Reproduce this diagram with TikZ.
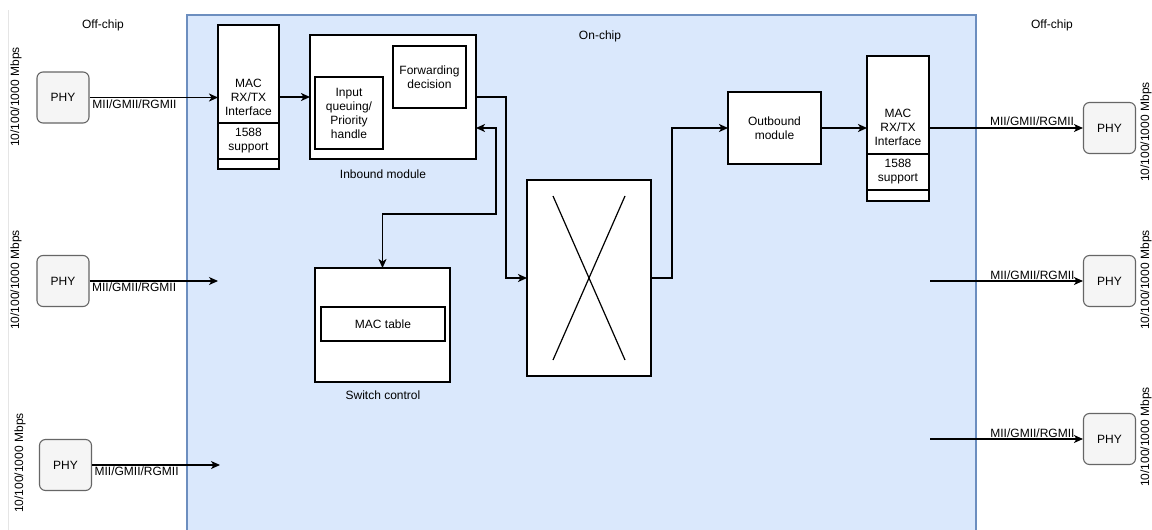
\documentclass[tikz,border=0pt]{standalone}
\usepackage{fontspec}
\setmainfont{Liberation Sans}
\usetikzlibrary{arrows.meta}
\usetikzlibrary{calc,positioning}

\definecolor{chipfill}{HTML}{DAE8FC}
\definecolor{chipline}{HTML}{6C8EBF}
\definecolor{phyfill}{HTML}{F5F5F5}
\definecolor{phyline}{HTML}{666666}

\tikzset{
 blk/.style={draw=black, line width=1.8pt, fill=white, inner sep=0, outer sep=0, align=center},
 phy/.style={draw=phyline, fill=phyfill, line width=1.1pt, rounded corners=6pt, inner sep=0, minimum width=52pt, minimum height=51pt},
 lbl/.style={inner sep=1pt, align=center},
 rate/.style={inner sep=0, rotate=90},
 bus/.style={black, line width=1.8pt, ->, >={Stealth[length=9pt, width=8pt, inset=2.5pt]}},
 link/.style={black, line width=1.1pt, ->, >={Stealth[length=9pt, width=8pt, inset=2.5pt]}},
}

\begin{document}
\begin{tikzpicture}[x=1pt, y=-1pt, font=\fontsize{12}{14}\selectfont]
\useasboundingbox (0,0) rectangle (1152,530);
\fill[white] (0,0) rectangle (1152,530);
\draw[black!10] (8,10) -- (8,530);
% on-chip area
\fill[chipfill] (187,15) rectangle (976,530);
\draw[chipline, line width=1.5pt] (187,530) -- (187,15) -- (976,15) -- (976,530);
\node[lbl] (onchip) at (600,36) {On-chip};
\node[lbl] (offL) at (103,25) {Off-chip};
\node[lbl] (offR) at (1052,25) {Off-chip};

% PHYs
\node[phy] (phyL1) at (63,97.5) {PHY};
\node[phy] (phyL2) at (63,281) {PHY};
\node[phy] (phyL3) at (65.5,465) {PHY};
\node[phy] (phyR1) at (1109.5,128) {PHY};
\node[phy] (phyR2) at (1109.5,281) {PHY};
\node[phy] (phyR3) at (1109.5,439) {PHY};
\node[rate] (rateL1) at (16,97) {10/100/1000 Mbps};
\node[rate] (rateL2) at (16,280) {10/100/1000 Mbps};
\node[rate] (rateL3) at (20,463) {10/100/1000 Mbps};
\node[rate] (rateR1) at (1146,132) {10/100/1000 Mbps};
\node[rate] (rateR2) at (1146,280) {10/100/1000 Mbps};
\node[rate] (rateR3) at (1146,437) {10/100/1000 Mbps};

% MAC interfaces
\node[blk, minimum width=61pt, minimum height=98pt] (macL) at (248.5,74) {};
\node[lbl] (macLtxt) at (248.5,97) {MAC\\RX/TX\\Interface};
\node[blk, minimum width=61pt, minimum height=36pt, below=0pt of macL] (tsL) {1588\\support};
\node[blk, minimum width=61pt, minimum height=10pt, below=0pt of tsL] (padL) {};
\node[blk, minimum width=62pt, minimum height=98pt] (macR) at (898,105) {};
\node[lbl] (macRtxt) at (898,127) {MAC\\RX/TX\\Interface};
\node[blk, minimum width=62pt, minimum height=36pt, below=0pt of macR] (tsR) {1588\\support};
\node[blk, minimum width=62pt, minimum height=11pt, below=0pt of tsR] (padR) {};

% inbound module
\node[blk, minimum width=166pt, minimum height=124pt] (inb) at (393,97) {};
\node[blk, minimum width=68pt, minimum height=72pt] (queue) at (349,113) {Input\\queuing/\\Priority\\handle};
\node[blk, minimum width=73pt, minimum height=62pt] (fwd) at (429.5,77) {Forwarding\\decision};
\node[lbl] (inbtxt) at (383,174) {Inbound module};

% switch control
\node[blk, minimum width=135pt, minimum height=114pt] (swc) at (382.5,325) {};
\node[blk, minimum width=124pt, minimum height=34pt] (mactab) at (383,324) {MAC table};
\node[lbl] (swctxt) at (383,395) {Switch control};

% crossbar and outbound
\node[blk, minimum width=124pt, minimum height=196pt] (xbar) at (589,278) {};
\draw[line width=1.2pt] ($(xbar.north west)+(26,16)$) -- ($(xbar.south east)+(-26,-16)$);
\draw[line width=1.2pt] ($(xbar.north east)+(-26,16)$) -- ($(xbar.south west)+(26,-16)$);
\node[blk, minimum width=93pt, minimum height=72pt] (outb) at (774.5,128) {Outbound\\module};

% free ends
\coordinate (inL2) at (218,281);
\coordinate (inL3) at (220,465);
\coordinate (outR2) at (930,281);
\coordinate (outR3) at (930,439);

% connectors
\draw[bus] (phyL1.east) -- (phyL1.east -| macL.west) node[pos=0, below right, lbl, xshift=1]{MII/GMII/RGMII};
\draw[link] (phyL2.east) -- (inL2) node[pos=0, below right, lbl, xshift=1]{MII/GMII/RGMII};
\draw[link] (phyL3.east) -- (inL3) node[pos=0, below right, lbl, xshift=1]{MII/GMII/RGMII};
\draw[bus] (macL.east |- inb.west) -- (inb.west);
\draw[bus] (inb.east) -- ++(30,0) |- (xbar.west);
\draw[bus, <->] ($(inb.east)+(0,31)$) -- ++(20,0) |- ($(swc.north)+(0,-54)$) -- (swc.north);
\draw[bus] (xbar.east) -- ++(21,0) |- (outb.west);
\draw[bus] (outb.east) -- (outb.east -| macR.west);
\draw[bus] (macR.east |- phyR1.west) -- (phyR1.west) node[pos=1, above left, lbl, xshift=-7]{MII/GMII/RGMII};
\draw[link] (outR2) -- (phyR2.west) node[pos=1, above left, lbl, xshift=-7]{MII/GMII/RGMII};
\draw[link] (outR3) -- (phyR3.west) node[pos=1, above left, lbl, xshift=-7]{MII/GMII/RGMII};
\end{tikzpicture}
\end{document}
